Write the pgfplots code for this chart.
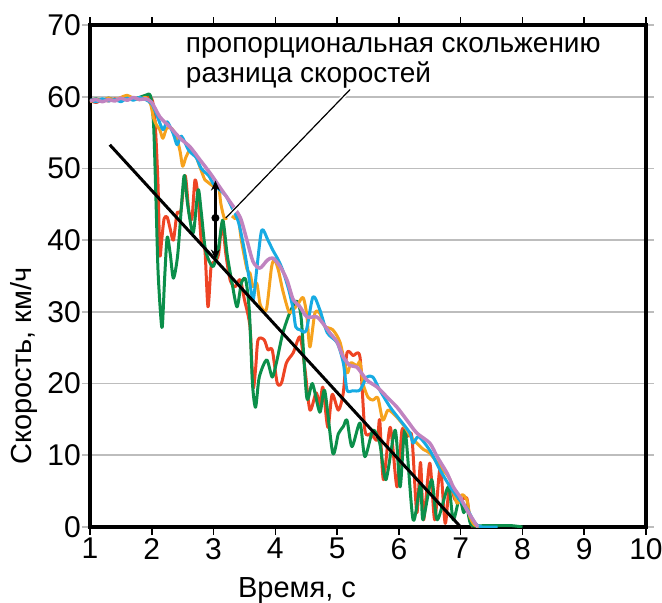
\documentclass[border=0pt]{standalone}
\usepackage{fontspec}
\setmainfont{Liberation Sans}
\usepackage{pgfplots}
\pgfplotsset{compat=1.18}
\usetikzlibrary{arrows.meta}
\definecolor{cgreen}{HTML}{0B8F4A}
\definecolor{cred}{HTML}{EE4424}
\definecolor{corange}{HTML}{F6A21D}
\definecolor{cblue}{HTML}{17ABE3}
\definecolor{cpurple}{HTML}{C083C0}
\definecolor{cgrid}{HTML}{BDBDBD}
\begin{document}
\begin{tikzpicture}
\begin{axis}[
  scale only axis, width=556pt, height=502pt,
  xmin=1, xmax=10, ymin=0, ymax=70,
  xtick={1,2,...,10}, ytick={0,10,...,70},
  axis line style={line width=3.5pt},
  ymajorgrids, grid style={cgrid, line width=1.6pt},
  tick align=outside, major tick length=8pt,
  xtick style={black, line width=1.5pt},
  ytick style={cgrid, line width=1.6pt},
  /pgf/number format/assume math mode=true,
  ticklabel style={font=\fontsize{30}{32}\selectfont},
  yticklabel style={inner sep=1pt, xshift=0pt},
  xticklabel style={inner sep=1pt, yshift=-2pt},
  every axis plot/.append style={line width=3pt, smooth, tension=0.45, line join=round},
  clip=true,
]
\addplot[cred] coordinates {
(1.00,59.5)(1.10,59.2)(1.20,59.6)(1.30,59.4)(1.40,59.7)(1.50,59.5)(1.60,60.0)(1.70,59.6)(1.80,59.8)(1.90,60.1)(2.00,59.7)
(2.05,57.0)(2.10,48.0)(2.13,38.0)(2.16,40.0)(2.20,43.0)(2.25,43.2)(2.30,41.5)(2.35,40.0)(2.41,43.8)(2.47,44.0)(2.54,49.0)
(2.60,44.0)(2.65,43.0)(2.70,48.4)(2.75,46.0)(2.80,40.0)(2.86,38.6)(2.91,30.7)(2.96,36.3)(3.02,37.0)(3.08,38.0)(3.14,42.4)
(3.20,38.0)(3.27,34.4)(3.35,33.5)(3.43,34.5)(3.50,31.7)(3.59,27.9)(3.64,19.5)(3.68,22.0)(3.72,26.1)(3.82,26.1)(3.88,24.7)
(3.95,24.7)(4.03,20.1)(4.10,20.1)(4.18,22.9)(4.29,24.3)(4.40,26.5)(4.48,22.0)(4.56,16.3)(4.66,18.7)(4.72,17.0)(4.77,19.5)
(4.85,13.9)(4.92,18.5)(5.02,16.3)(5.10,18.7)(5.16,24.3)(5.26,23.9)(5.37,23.7)(5.45,13.5)(5.55,13.0)(5.65,12.1)(5.69,14.9)
(5.75,6.6)(5.86,13.9)(5.97,5.6)(6.05,13.5)(6.13,12.6)(6.21,12.6)(6.29,2.0)(6.35,9.0)(6.40,1.0)(6.50,8.9)(6.58,1.0)(6.67,8.4)
(6.75,0.5)(6.82,6.0)(6.91,3.8)(7.02,3.8)(7.10,4.0)(7.15,1.0)(7.20,0)
};
\addplot[cgreen] coordinates {
(1.00,59.4)(1.10,59.7)(1.20,59.4)(1.30,59.8)(1.40,59.5)(1.50,59.6)(1.60,60.1)(1.70,59.7)(1.80,59.9)(1.90,60.2)(1.98,60.1)
(2.03,56.0)(2.07,45.0)(2.10,36.0)(2.14,30.0)(2.17,27.9)(2.21,35.0)(2.25,40.4)(2.30,38.0)(2.35,34.7)(2.42,38.0)(2.50,47.0)
(2.53,49.0)(2.58,45.0)(2.67,41.0)(2.75,47.0)(2.80,44.0)(2.87,38.6)(2.99,36.3)(3.08,39.0)(3.15,42.8)(3.22,38.0)(3.30,34.0)
(3.38,30.7)(3.45,34.0)(3.52,34.5)(3.58,30.0)(3.63,20.0)(3.68,16.7)(3.74,20.9)(3.86,23.3)(3.95,20.9)(4.02,23.0)(4.12,27.0)
(4.24,30.0)(4.35,31.5)(4.42,29.0)(4.51,18.0)(4.60,20.0)(4.72,16.0)(4.80,19.0)(4.93,10.3)(5.02,13.0)(5.10,14.0)(5.16,14.9)
(5.24,11.2)(5.37,14.5)(5.45,9.8)(5.58,13.5)(5.69,11.7)(5.79,6.6)(5.94,13.5)(6.02,5.6)(6.10,13.5)(6.23,1.0)(6.35,6.0)
(6.39,1.0)(6.53,6.6)(6.62,1.0)(6.80,5.6)(6.88,1.0)(6.98,4.0)(7.05,2.0)(7.10,3.0)(7.17,0.3)(7.40,0.2)(7.80,0.2)(8.00,0)
};
\addplot[corange] coordinates {
(1.00,59.3)(1.10,59.6)(1.20,59.5)(1.30,59.8)(1.40,59.5)(1.50,59.9)(1.60,60.2)(1.70,59.8)(1.80,59.6)(1.90,59.9)(1.98,59.0)
(2.03,57.0)(2.08,56.0)(2.13,55.4)(2.18,54.2)(2.24,55.6)(2.32,55.6)(2.40,54.4)(2.46,52.3)(2.50,50.3)(2.55,51.5)(2.62,52.6)
(2.70,52.0)(2.78,50.2)(2.86,48.4)(2.92,48.0)(3.00,47.5)(3.08,47.5)(3.12,45.0)(3.18,43.0)(3.27,43.5)(3.35,43.0)(3.40,43.2)
(3.45,40.0)(3.54,36.0)(3.59,35.4)(3.64,33.5)(3.70,34.0)(3.75,31.2)(3.80,30.3)(3.86,30.5)(3.94,36.3)(3.99,37.2)(4.05,35.8)
(4.12,33.0)(4.22,30.0)(4.29,30.3)(4.36,31.0)(4.45,32.0)(4.51,29.5)(4.56,25.1)(4.64,29.8)(4.72,29.8)(4.80,28.0)(4.93,27.5)
(5.05,25.7)(5.16,21.5)(5.22,22.9)(5.32,22.5)(5.37,23.0)(5.42,20.0)(5.50,18.1)(5.58,17.7)(5.66,18.0)(5.74,14.9)(5.82,16.3)
(5.90,15.9)(6.00,15.0)(6.10,13.9)(6.20,12.5)(6.29,11.7)(6.40,10.8)(6.50,10.3)(6.67,8.4)(6.83,6.6)(6.94,3.3)(7.02,4.5)
(7.10,3.8)(7.15,1.4)(7.22,0.3)(7.30,0)
};
\addplot[cblue] coordinates {
(1.00,59.6)(1.10,59.3)(1.20,59.7)(1.30,59.4)(1.40,59.6)(1.50,59.3)(1.60,59.8)(1.70,59.5)(1.80,59.9)(1.90,59.6)(2.00,59.0)
(2.08,57.5)(2.18,55.4)(2.25,56.5)(2.35,54.8)(2.41,53.3)(2.48,54.5)(2.60,52.5)(2.72,51.5)(2.80,50.0)(2.92,49.0)(3.00,47.8)
(3.10,47.0)(3.20,46.2)(3.30,44.5)(3.40,42.6)(3.48,39.5)(3.56,35.5)(3.64,31.7)(3.70,36.0)(3.78,41.4)(3.88,40.0)(3.96,38.6)
(4.05,37.2)(4.12,35.8)(4.22,33.0)(4.29,30.3)(4.33,27.9)(4.40,27.5)(4.50,27.4)(4.61,32.1)(4.72,30.3)(4.84,27.1)(5.00,25.7)
(5.10,22.9)(5.16,19.1)(5.25,19.0)(5.37,19.1)(5.48,20.9)(5.58,20.9)(5.69,19.1)(5.86,16.7)(6.02,14.9)(6.18,13.1)(6.23,11.7)
(6.32,12.6)(6.50,10.7)(6.67,7.9)(6.83,5.6)(6.98,3.8)(7.10,2.6)(7.20,1.0)(7.26,0.3)(7.35,0)(7.60,0)
};
\addplot[cpurple, line width=3.5pt] coordinates {
(1.00,59.4)(1.10,59.6)(1.20,59.3)(1.30,59.6)(1.40,59.4)(1.50,59.8)(1.60,59.5)(1.70,59.9)(1.80,59.6)(1.90,59.7)(2.00,59.2)
(2.13,57.2)(2.29,55.8)(2.46,54.2)(2.62,53.0)(2.78,51.2)(2.94,49.4)(3.10,47.4)(3.27,45.3)(3.43,43.2)(3.54,40.0)(3.64,37.0)
(3.75,36.1)(3.87,37.2)(3.96,37.5)(4.08,36.3)(4.19,34.4)(4.29,31.7)(4.40,30.7)(4.51,29.3)(4.67,29.3)(4.77,28.4)(4.88,27.1)
(5.00,25.8)(5.10,23.7)(5.21,22.5)(5.32,22.3)(5.48,20.5)(5.65,19.5)(5.81,18.1)(5.97,16.7)(6.13,14.9)(6.29,13.1)(6.50,11.7)
(6.62,9.8)(6.78,7.5)(6.88,5.6)(6.99,4.2)(7.10,2.4)(7.23,0.6)(7.28,0)
};
\addplot[black, line width=3pt, sharp plot] coordinates {(1.32,53.3)(7.00,0)};
\draw[white, line width=4pt] (axis cs:3.22,43.1) -- (axis cs:5.21,61.0);
\draw[black, line width=1.2pt] (axis cs:3.20,43.1) -- (axis cs:5.21,61.0);
\draw[black, line width=2.5pt, {Stealth[length=10pt,width=9pt]}-{Stealth[length=10pt,width=9pt]}] (axis cs:3.03,37.3) -- (axis cs:3.03,48.3);
\fill[black] (axis cs:3.03,43.1) circle (4pt);
\node[anchor=base west, inner sep=0pt, font=\fontsize{28}{30}\selectfont] at (axis cs:2.55,66.1) {пропорциональная скольжению};
\node[anchor=base west, inner sep=0pt, font=\fontsize{28}{30}\selectfont] at (axis cs:2.55,62.05) {разница скоростей};
\end{axis}
\node[anchor=base, inner sep=0pt, font=\fontsize{29}{31}\selectfont] at (207pt,-70pt) {Время, с};
\node[anchor=base, rotate=90, inner sep=0pt, font=\fontsize{29}{31}\selectfont] at (-58pt,161pt) {Скорость, км/ч};
\pgfresetboundingbox
\useasboundingbox (-90pt,-76pt) rectangle (572pt,527pt);
\end{tikzpicture}
\end{document}
